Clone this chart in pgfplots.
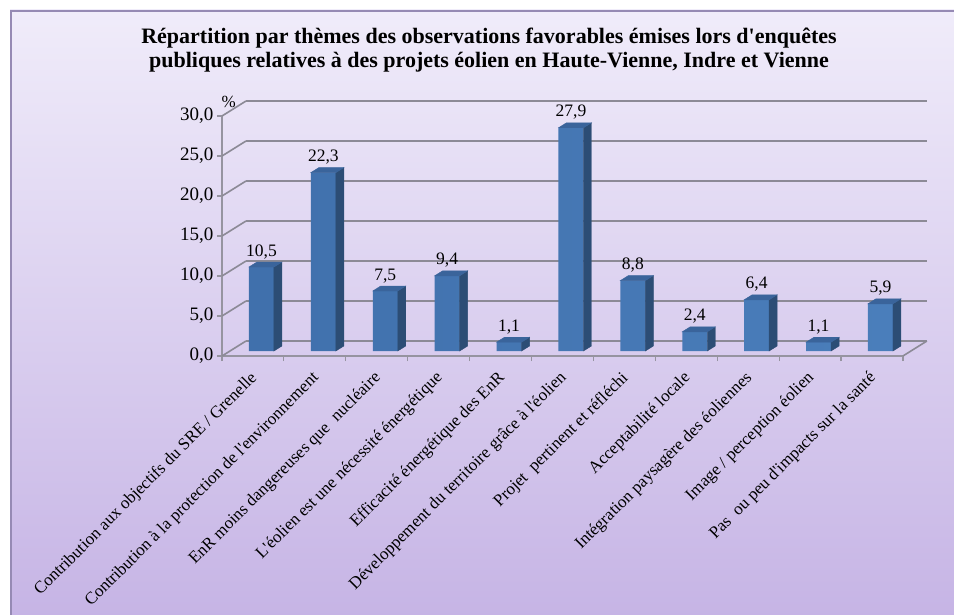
\documentclass[border=0pt]{standalone}
\usepackage{pgfplots}
\pgfplotsset{compat=1.18}
\usepackage{fontspec}
\setmainfont{Liberation Serif}[Ligatures=TeXOff]
\definecolor{frontblue}{RGB}{74,126,187}
\definecolor{frontdark}{RGB}{64,112,172}
\definecolor{frontlight}{RGB}{86,140,202}
\definecolor{sideblue}{RGB}{44,77,117}
\definecolor{topblue}{RGB}{58,100,155}
\definecolor{gridgray}{RGB}{140,138,150}
\definecolor{axgray}{RGB}{150,148,160}
\definecolor{bgtop}{RGB}{240,236,250}
\definecolor{bgbot}{RGB}{198,180,229}
\definecolor{bordercol}{RGB}{150,138,180}
\pgfdeclareplotmark{nothing}{}
\begin{document}
\begin{tikzpicture}
\useasboundingbox (0pt,0pt) rectangle (954pt,614pt);
\fill[white] (0pt,0pt) rectangle (954pt,614pt);
\shade[top color=bgtop, bottom color=bgbot] (10pt,-4pt) rectangle (960pt,604pt);
\draw[bordercol, line width=2pt] (11pt,-4pt) -- (11pt,603pt) -- (960pt,603pt);
\node[font=\bfseries\fontsize{22}{24}\selectfont, anchor=base] at (489pt,570pt)
 {Répartition par thèmes des observations favorables émises lors d'enquêtes};
\node[font=\bfseries\fontsize{22}{24}\selectfont, anchor=base] at (489pt,546pt)
 {publiques relatives à des projets éolien en Haute-Vienne, Indre et Vienne};
\begin{axis}[
  at={(222pt,258pt)}, anchor=south west,
  x=61.9pt, y=8pt,
  xmin=-0.5, xmax=10.5, ymin=0, ymax=30,
  clip=false,
  axis x line*=bottom, axis y line*=left,
  axis line style={draw=axgray, line width=1.5pt, -},
  tick align=outside,
  ytick={0,5,...,30},
  major tick length=5pt, minor tick length=5pt,
  tick style={draw=axgray, line width=1.2pt},
  y tick label style={font=\fontsize{19}{21}\selectfont,
    /pgf/number format/fixed, /pgf/number format/fixed zerofill,
    /pgf/number format/precision=1, /pgf/number format/use comma,
    /pgf/number format/assume math mode=true},
  xtick={0,...,10},
  major x tick style={draw=none},
  minor xtick={-0.5,0.5,...,10.5},
  xticklabels={Contribution aux objectifs du SRE / Grenelle,
    Contribution à la protection de l'environnement,
    EnR moins dangereuses que\ \ nucléaire,
    L'éolien est une nécessité énergétique,
    Efficacité énergétique des EnR,
    Développement du territoire grâce à l'éolien,
    Projet\ \ pertinent et réfléchi,
    Acceptabilité locale,
    Intégration paysagère des éoliennes,
    Image / perception éolien,
    Pas\ \ ou peu d'impacts sur la santé},
  x tick label style={xshift=-4pt, yshift=-9pt, rotate=45, anchor=north east, inner sep=0pt, font=\fontsize{17}{20}\selectfont},
  ymajorgrids,
  major grid style={draw=gridgray, line width=1.6pt, xshift=24pt, yshift=15pt},
]
\pgfplotsinvokeforeach{0,5,...,30}{
  \draw[gridgray, line width=1.6pt] (axis cs:-0.5,#1) -- ++(24pt,15pt);
}
\draw[gridgray, line width=1.6pt] (axis cs:10.5,0) -- ++(24pt,15pt);
\addplot[only marks, mark=nothing, scatter, xshift=8.5pt, yshift=5pt,
  visualization depends on={rawy \as \rawy},
  scatter/@pre marker code/.code={
    \fill[sideblue] (12.5pt,0pt) -- (20.5pt,5pt) -- (20.5pt,{5pt-\rawy*8pt}) -- (12.5pt,{-\rawy*8pt}) -- cycle;
    \fill[topblue] (-12.5pt,0pt) -- (-4.5pt,5pt) -- (20.5pt,5pt) -- (12.5pt,0pt) -- cycle;
  },
  scatter/@post marker code/.code={}]
  coordinates {(0,10.5) (1,22.3) (2,7.5) (3,9.4) (4,1.1) (5,27.9) (6,8.8) (7,2.4) (8,6.4) (9,1.1) (10,5.9)};
\addplot[ybar, bar width=25pt, draw=none, left color=frontdark, middle color=frontlight, right color=frontblue,
  xshift=8.5pt, yshift=5pt,
  nodes near coords={\pgfmathprintnumber[fixed,fixed zerofill,precision=1,use comma,assume math mode=true]{\pgfplotspointmeta}},
  nodes near coords style={anchor=base, yshift=11pt, font=\fontsize{17.5}{20}\selectfont, text=black}]
  coordinates {(0,10.5) (1,22.3) (2,7.5) (3,9.4) (4,1.1) (5,27.9) (6,8.8) (7,2.4) (8,6.4) (9,1.1) (10,5.9)};
\end{axis}
\node[font=\fontsize{17}{20}\selectfont, anchor=base west] at (218pt,506pt) {\%};
\end{tikzpicture}
\end{document}
